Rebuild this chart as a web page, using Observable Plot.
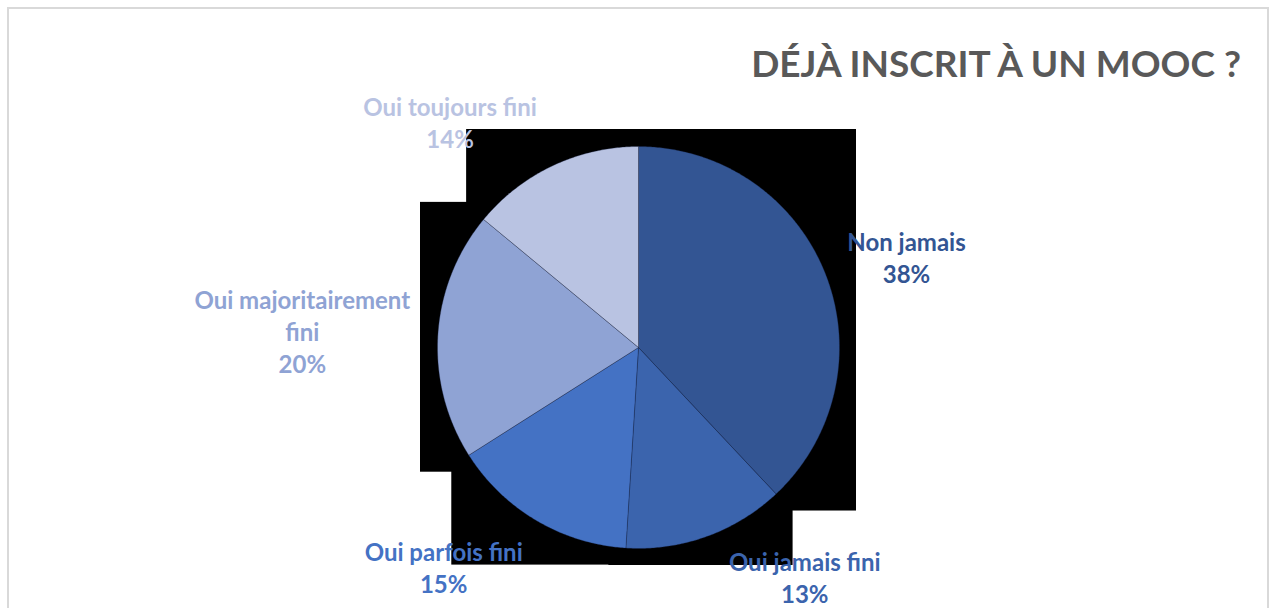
<!DOCTYPE html>
<html><head><meta charset="utf-8">
<script src="https://cdn.jsdelivr.net/npm/d3@7"></script>
<script src="https://cdn.jsdelivr.net/npm/@observablehq/plot@0.6"></script>
<style>
html,body{margin:0;padding:0;background:#fff;overflow:hidden;}
#wrap{position:relative;width:1271px;height:608px;overflow:hidden;}
#border{position:absolute;left:7px;top:7px;width:1262px;height:660px;border:2px solid #d9d9d9;box-sizing:border-box;}
#title{position:absolute;right:30px;top:44px;font-family:Lato,sans-serif;font-weight:bold;font-size:37px;line-height:1;color:#595959;white-space:nowrap;}
#chart{position:absolute;left:0;top:0;}
</style></head><body>
<div id="wrap"><div id="border"></div><div id="chart"></div><div id="title">DÉJÀ INSCRIT À UN MOOC ?</div></div>
<script>
// ---- data ----
const categories = ["Non jamais", "Oui jamais fini", "Oui parfois fini", "Oui majoritairement fini", "Oui toujours fini"];
const labelTexts = ["Non jamais", "Oui jamais fini", "Oui parfois fini", "Oui majoritairement\nfini", "Oui toujours fini"];
const percents = [38, 13, 15, 20, 14];
const colors = ["#335593", "#3b64ad", "#4472c4", "#8fa3d4", "#b9c3e2"];

// ---- layout ----
const W = 1271, H = 608;
const CX = 638, CY = 347, R = 201;       // pie centre and radius (px)
const SHADOW = 17;                        // glow box padding around each slice (px)
const FONT_SIZE = 24, LINE_H = 32, GAP = 28;
const labelNudge = {
  "Non jamais": [0, 4],
  "Oui jamais fini": [63, -13],
  "Oui parfois fini": [-38, -2],
  "Oui majoritairement fini": [0, 0],
  "Oui toujours fini": [-54, 7]
};

const total = d3.sum(percents);
const slices = [];
let acc = 0;
categories.forEach((c, i) => {
  const a0 = acc / total * 2 * Math.PI;
  acc += percents[i];
  const a1 = acc / total * 2 * Math.PI;
  slices.push({cat: c, a0, a1, pct: percents[i], label: labelTexts[i]});
});

// slice polygons in unit coordinates (y up), angle clockwise from top
const polys = [];
const boxes = [];
for (const s of slices) {
  const n = Math.max(8, Math.ceil((s.a1 - s.a0) / (2 * Math.PI) * 720));
  const pts = [{cat: s.cat, x: 0, y: 0}];
  for (let k = 0; k <= n; k++) {
    const a = s.a0 + (s.a1 - s.a0) * k / n;
    pts.push({cat: s.cat, x: Math.sin(a), y: Math.cos(a)});
  }
  pts.push({cat: s.cat, x: 0, y: 0});
  polys.push(...pts);
  const pad = SHADOW / R;
  boxes.push({
    cat: s.cat,
    x1: d3.min(pts, p => p.x) - pad, x2: d3.max(pts, p => p.x) + pad,
    y1: d3.min(pts, p => p.y) - pad, y2: d3.max(pts, p => p.y) + pad
  });
}

// label placement (outside end)
const ctx = document.createElement("canvas").getContext("2d");
ctx.font = `bold ${FONT_SIZE}px Lato`;
const labels = slices.map(s => {
  const text = `${s.label}\n${s.pct}%`;
  const lines = text.split("\n");
  const w = d3.max(lines, l => ctx.measureText(l).width);
  const h = lines.length * LINE_H - 7;
  const m = (s.a0 + s.a1) / 2;
  const sn = Math.sin(m), cs = Math.cos(m);
  const k = (R + GAP) / R;
  const [ndx, ndy] = labelNudge[s.cat] || [0, 0];
  const x = k * sn + (w / 2) / R * sn + ndx / R;
  const y = k * cs + (h / 2) / R * cs - ndy / R;
  return {cat: s.cat, text, x, y};
});

const chart = Plot.plot({
  width: W, height: H, margin: 0,
  x: {domain: [-1, 1], range: [CX - R, CX + R], axis: null},
  y: {domain: [-1, 1], range: [CY + R, CY - R], axis: null},
  color: {domain: categories, range: colors},
  style: {background: "transparent", overflow: "visible"},
  marks: [
    Plot.rect(boxes, {x1: "x1", x2: "x2", y1: "y1", y2: "y2", fill: "black"}),
    Plot.line(polys, {x: "x", y: "y", z: "cat", fill: "cat", stroke: "rgba(20,30,60,0.45)", strokeWidth: 0.7}),
    Plot.text(labels, {x: "x", y: "y", text: "text", fill: "cat", fontSize: FONT_SIZE, fontWeight: "bold",
      fontFamily: "Lato", lineHeight: LINE_H / FONT_SIZE, textAnchor: "middle", lineAnchor: "middle"})
  ]
});
document.getElementById("chart").appendChild(chart);
</script>
</body></html>
